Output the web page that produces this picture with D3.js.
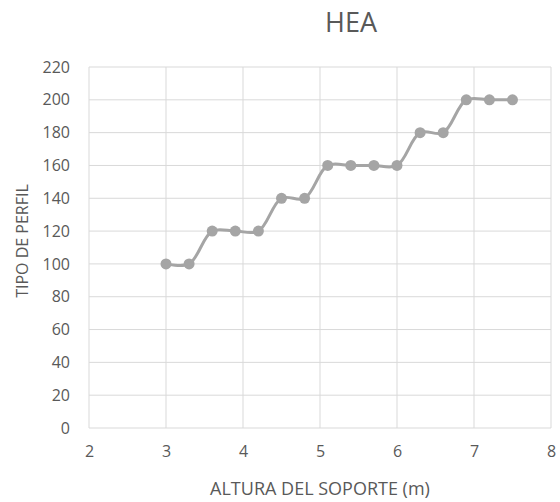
<!DOCTYPE html>
<html>
<head>
<meta charset="utf-8">
<script src="https://cdn.jsdelivr.net/npm/d3@7"></script>
<style>
  body { margin: 0; background: #fff; }
  text { font-family: "Open Sans", "Liberation Sans", sans-serif; fill: #595959; }
</style>
</head>
<body>
<div id="chart"></div>
<script>
let chartTitle = "HEA"
let xTitle = "ALTURA DEL SOPORTE (m)"
let yTitle = "TIPO DE PERFIL"
let alturas = [3, 3.3, 3.6, 3.9, 4.2, 4.5, 4.8, 5.1, 5.4, 5.7, 6.0, 6.3, 6.6, 6.9, 7.2, 7.5]
let perfiles = [100, 100, 120, 120, 120, 140, 140, 160, 160, 160, 160, 180, 180, 200, 200, 200]
let xTicks = [2, 3, 4, 5, 6, 7, 8]
let yTicks = [0, 20, 40, 60, 80, 100, 120, 140, 160, 180, 200, 220]

let width = 560, height = 502
let margin = { top: 67, bottom: 74, left: 89, right: 9 }
let bodyWidth = width - margin.left - margin.right
let bodyHeight = height - margin.top - margin.bottom

let svg = d3.select("#chart").append("svg")
    .attr("width", width)
    .attr("height", height)
let container = svg.append("g")
    .attr("transform", "translate(" + [margin.left, margin.top] + ")")

let xScale = d3.scaleLinear().domain([2, 8]).range([0, bodyWidth])
let yScale = d3.scaleLinear().domain([0, 220]).range([bodyHeight, 0])

// grid
container.selectAll(".hgrid").data(yTicks).enter()
    .append("line")
    .attr("x1", 0).attr("x2", bodyWidth)
    .attr("y1", d => yScale(d)).attr("y2", d => yScale(d))
    .style("stroke", "#d9d9d9").style("stroke-width", 1)
container.selectAll(".vgrid").data(xTicks).enter()
    .append("line")
    .attr("y1", 0).attr("y2", bodyHeight)
    .attr("x1", d => xScale(d)).attr("x2", d => xScale(d))
    .style("stroke", "#d9d9d9").style("stroke-width", 1)

// axes (labels only)
let axisX = d3.axisBottom(xScale).tickValues(xTicks).tickFormat(d3.format("d")).tickSize(0).tickPadding(18)
let gx = container.append("g")
    .attr("transform", "translate(0," + bodyHeight + ")")
    .call(axisX)
gx.select(".domain").remove()
gx.selectAll("text").style("font-size", "16px").attr("fill", "#595959")

let axisY = d3.axisLeft(yScale).tickValues(yTicks).tickFormat(d3.format("d")).tickSize(0).tickPadding(19)
let gy = container.append("g").call(axisY)
gy.select(".domain").remove()
gy.selectAll("text").style("font-size", "16px").attr("fill", "#595959")

// line
let data = alturas.map((a, i) => ({ x: a, y: perfiles[i] }))
let line = d3.line()
    .x(d => xScale(d.x))
    .y(d => yScale(d.y))
    .curve(d3.curveCatmullRom.alpha(0.5))
container.append("path")
    .datum(data)
    .attr("d", line)
    .style("fill", "none")
    .style("stroke", "#a5a5a5")
    .style("stroke-width", 3)

container.selectAll("circle").data(data).enter()
    .append("circle")
    .attr("cx", d => xScale(d.x))
    .attr("cy", d => yScale(d.y))
    .attr("r", 5.5)
    .style("fill", "#a5a5a5")

// titles
svg.append("text")
    .attr("x", 351).attr("y", 32)
    .attr("text-anchor", "middle")
    .style("font-size", "27px")
    .text(chartTitle)
svg.append("text")
    .attr("x", 320).attr("y", 495)
    .attr("text-anchor", "middle")
    .style("font-size", "18px")
    .text(xTitle)
svg.append("text")
    .attr("transform", "translate(28,241) rotate(-90)")
    .attr("text-anchor", "middle")
    .style("font-size", "16px")
    .text(yTitle)
</script>
</body>
</html>
